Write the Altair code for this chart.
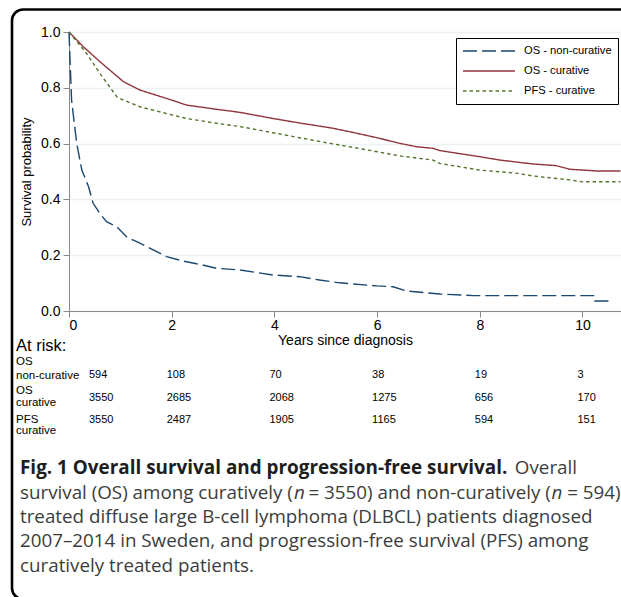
import altair as alt
import pandas as pd

# ---------------- data ----------------
series_names = ["OS - non-curative", "OS - curative", "PFS - curative"]
series_colors = ["#1a476f", "#90353b", "#55752f"]
series_dash = [[14, 5], [1, 0], [3.5, 3]]

nc_years = [0, 0.05, 0.15, 0.25, 0.38, 0.47, 0.6, 0.73, 0.93, 1.12, 1.38, 1.64, 1.9, 2.22,
            2.55, 2.87, 3.33, 3.97, 4.49, 4.88, 5.27, 6.0, 6.31, 6.57, 7.22, 7.87, 10.23,
            10.24, 10.59]
nc_surv = [1.0, 0.756, 0.601, 0.505, 0.446, 0.386, 0.350, 0.320, 0.302, 0.266, 0.243, 0.219,
           0.195, 0.179, 0.167, 0.153, 0.147, 0.129, 0.123, 0.111, 0.101, 0.090, 0.087, 0.072,
           0.061, 0.055, 0.055, 0.036, 0.036]

os_years = [0, 0.28, 0.6, 1.06, 1.38, 2.0, 2.29, 2.87, 3.33, 3.97, 4.49, 5.14, 5.53, 6.0,
            6.44, 6.76, 7.09, 7.22, 8.0, 8.39, 9.03, 9.49, 9.75, 10.27, 10.74]
os_surv = [1.0, 0.947, 0.894, 0.822, 0.792, 0.756, 0.738, 0.723, 0.712, 0.690, 0.674, 0.655,
           0.640, 0.621, 0.601, 0.589, 0.583, 0.575, 0.553, 0.541, 0.527, 0.521, 0.508, 0.502,
           0.502]

pfs_years = [0, 0.34, 0.6, 0.93, 1.06, 1.38, 2.0, 2.29, 2.87, 3.33, 3.97, 4.49, 5.14, 6.0,
             6.44, 7.09, 7.22, 8.0, 8.71, 9.03, 9.75, 10.0, 10.74]
pfs_surv = [1.0, 0.924, 0.852, 0.768, 0.756, 0.732, 0.703, 0.690, 0.673, 0.661, 0.639, 0.621,
            0.599, 0.571, 0.556, 0.541, 0.529, 0.505, 0.494, 0.484, 0.470, 0.463, 0.463]

x_ticks = [0, 2, 4, 6, 8, 10]
y_ticks = [0.0, 0.2, 0.4, 0.6, 0.8, 1.0]

risk_years = [0, 2, 4, 6, 8, 10]
risk_nc = [594, 108, 70, 38, 19, 3]
risk_os = [3550, 2685, 2068, 1275, 656, 170]
risk_pfs = [3550, 2487, 1905, 1165, 594, 151]
row_line1 = ["OS", "OS", "PFS"]
row_line2 = ["non-curative", "curative", "curative"]

x_title = "Years since diagnosis"
y_title = "Survival probability"
at_risk_title = "At risk:"

caption_bold = "Fig. 1 Overall survival and progression-free survival."
caption_l1_rest = "Overall"
caption_l2 = ["survival (OS) among curatively (", "n", "= 3550) and non-curatively (", "n", "= 594)"]
caption_rest = [
    "treated diffuse large B-cell lymphoma (DLBCL) patients diagnosed",
    "2007\u20132014 in Sweden, and progression-free survival (PFS) among",
    "curatively treated patients.",
]

# ---------------- layout constants ----------------
W, H = 552, 279
LEFT, TOP = 69, 32
FONT = "Liberation Sans"
CAP_FONT = "Open Sans"

def yy(abs_y):
    return abs_y - TOP

def xx(abs_x):
    return abs_x - LEFT

rows = []
for name, ts, ss in [(series_names[0], nc_years, nc_surv),
                     (series_names[1], os_years, os_surv),
                     (series_names[2], pfs_years, pfs_surv)]:
    for i, (t, s) in enumerate(zip(ts, ss)):
        rows.append({"series": name, "t": t, "s": s, "i": i})
curves = pd.DataFrame(rows)

xscale = alt.Scale(domain=[0, 10.75], nice=False, zero=False)
yscale = alt.Scale(domain=[0, 1], nice=False)

x_axis = alt.Axis(values=x_ticks, format="d", title=x_title, grid=False,
                  labelFontSize=14, titleFontSize=14, labelPadding=1, titlePadding=1,
                  tickSize=6, titleFontWeight="normal")
y_axis = alt.Axis(values=y_ticks, format=".1f", title=y_title, grid=True,
                  gridColor="#eaf2f3", gridWidth=1.5,
                  labelFontSize=14, titleFontSize=13, labelPadding=3, titlePadding=7,
                  tickSize=6, titleFontWeight="normal")

legend = alt.Legend(title=None, orient="none", legendX=387, legendY=6,
                    symbolType="stroke", symbolSize=2700, symbolStrokeWidth=1.4,
                    clipHeight=14, rowPadding=6, padding=6, labelOffset=8,
                    labelFontSize=11.2, labelFont=FONT, labelColor="#000000",
                    strokeColor="#000000", fillColor="#ffffff", labelLimit=200)

color_enc = alt.Color("series:N", scale=alt.Scale(domain=series_names, range=series_colors),
                      legend=legend, sort=series_names)
dash_enc = alt.StrokeDash("series:N", scale=alt.Scale(domain=series_names, range=series_dash),
                          legend=legend, sort=series_names)

lines = alt.Chart(curves).mark_line(strokeWidth=1.4, interpolate="linear").encode(
    x=alt.X("t:Q", scale=xscale, axis=x_axis),
    y=alt.Y("s:Q", scale=yscale, axis=y_axis),
    color=color_enc,
    strokeDash=dash_enc,
    order=alt.Order("i:Q"),
    detail="series:N",
)

layers = [lines]

# frame (rounded box around figure)
frame = alt.Chart(pd.DataFrame({"a": [0]})).mark_rect(
    fill="transparent", stroke="#000000", strokeWidth=2.6, cornerRadius=11
).encode(x=alt.value(xx(12)), x2=alt.value(700), y=alt.value(yy(9.5)), y2=alt.value(yy(599)))
layers.append(frame)

# At risk table
layers.append(alt.Chart(pd.DataFrame({"txt": [at_risk_title]})).mark_text(
    align="left", baseline="alphabetic", font=FONT, fontSize=16.5, color="#000000"
).encode(text="txt:N", x=alt.value(xx(16)), y=alt.value(yy(351))))

line1_y = [362, 391, 420]
line2_y = [376, 403, 431]
num_y = [375, 398, 420]
for k, counts in enumerate([risk_nc, risk_os, risk_pfs]):
    layers.append(alt.Chart(pd.DataFrame({"txt": [row_line1[k]]})).mark_text(
        align="left", baseline="middle", font=FONT, fontSize=11.5, color="#000000"
    ).encode(text="txt:N", x=alt.value(xx(16)), y=alt.value(yy(line1_y[k]))))
    layers.append(alt.Chart(pd.DataFrame({"txt": [row_line2[k]]})).mark_text(
        align="left", baseline="middle", font=FONT, fontSize=11.5, color="#000000"
    ).encode(text="txt:N", x=alt.value(xx(16)), y=alt.value(yy(line2_y[k]))))
    df = pd.DataFrame({"t": risk_years, "n": counts})
    base = alt.Chart(df)
    layers.append(base.transform_filter("datum.t == 0").mark_text(
        align="left", baseline="middle", font=FONT, fontSize=11, color="#000000", dx=20
    ).encode(x=alt.X("t:Q", scale=xscale, axis=x_axis), text="n:Q",
             y=alt.value(yy(num_y[k]))))
    layers.append(base.transform_filter("datum.t > 0").mark_text(
        align="left", baseline="middle", font=FONT, fontSize=11, color="#000000", dx=-5
    ).encode(x=alt.X("t:Q", scale=xscale, axis=x_axis), text="n:Q",
             y=alt.value(yy(num_y[k]))))

# caption
CAP_SIZE = 18.8
CAP_COLOR = "#3c3c3c"
cap_base = [474, 498.5, 522.5, 547, 571.5]

def cap_text(txt, x, y, weight="normal", style="normal", align="left", color=CAP_COLOR,
             size=CAP_SIZE):
    return alt.Chart(pd.DataFrame({"txt": [txt]})).mark_text(
        align=align, baseline="alphabetic", font=CAP_FONT, fontSize=size,
        fontWeight=weight, fontStyle=style, color=color
    ).encode(text="txt:N", x=alt.value(xx(x)), y=alt.value(yy(y)))

layers.append(cap_text(caption_bold, 20, cap_base[0], weight="bold", color="#1e1e1e", size=18.9))
layers.append(cap_text(caption_l1_rest, 577, cap_base[0], align="right"))
layers.append(cap_text(caption_l2[0], 20, cap_base[1]))
layers.append(cap_text(caption_l2[1], 294, cap_base[1], style="italic"))
layers.append(cap_text(caption_l2[2], 308.5, cap_base[1]))
layers.append(cap_text(caption_l2[3], 551.5, cap_base[1], style="italic"))
layers.append(cap_text(caption_l2[4], 620.5, cap_base[1], align="right"))
for j, t in enumerate(caption_rest):
    layers.append(cap_text(t, 20, cap_base[2 + j]))

chart = alt.layer(*layers).properties(
    width=W, height=H,
    autosize=alt.AutoSizeParams(type="none"),
    padding={"left": LEFT, "top": TOP, "right": 621 - LEFT - W, "bottom": 597 - TOP - H},
).configure_view(stroke=None).configure_axis(
    labelFont=FONT, titleFont=FONT, labelColor="#000000", titleColor="#000000",
    domainColor="#000000", tickColor="#000000", domainWidth=1, tickWidth=1,
).configure(background="#ffffff")

chart.save("out.html", embed_options={"renderer": "svg", "actions": False})
